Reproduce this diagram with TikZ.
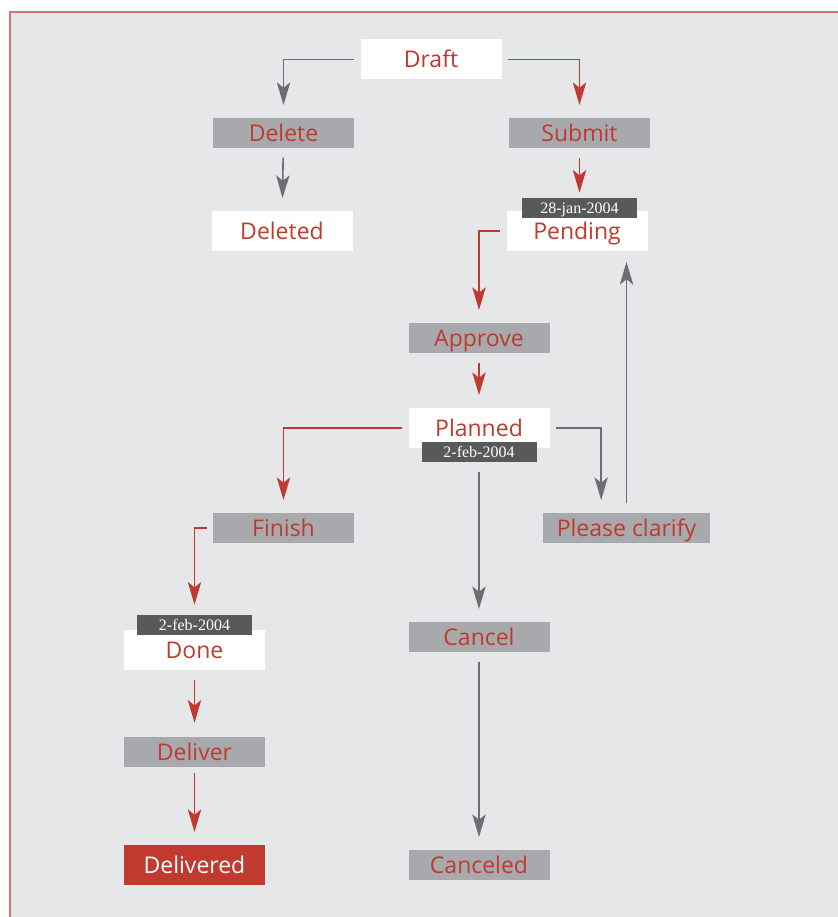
\documentclass[tikz,border=0pt]{standalone}
\usepackage{fontspec}
\setmainfont{Liberation Serif}
\setsansfont{Open Sans}
\usetikzlibrary{arrows.meta}

\definecolor{wfbg}{HTML}{E6E7E8}
\definecolor{wfframe}{HTML}{D07670}
\definecolor{wfred}{HTML}{C1392F}
\definecolor{wfgray}{HTML}{A7A9AC}
\definecolor{wfdark}{HTML}{58595B}
\definecolor{wfline}{HTML}{6D6E71}

\begin{document}
\begin{tikzpicture}[x=0.75pt, y=-0.75pt,
    every node/.style={font=\sffamily\fontsize{17.25}{20}\selectfont, text=wfred, inner sep=0pt, text height=12.4pt, text depth=0pt},
    state/.style={fill=white, minimum width=105.75pt, minimum height=30pt},
    action/.style={fill=wfgray, minimum width=105.75pt, minimum height=22.5pt},
    datetag/.style={fill=wfdark, text=white, font=\rmfamily\fontsize{12}{14}\selectfont, text height=8pt, minimum width=86.25pt, minimum height=15pt},
    flow/.style={line width=1.2pt, shorten <=7pt, shorten >=9.5pt, -{Stealth[length=17pt, width=10pt, inset=4pt]}},
    redarrow/.style={flow, draw=wfred},
    grayarrow/.style={flow, draw=wfline}]
    \useasboundingbox (0,0) rectangle (838,917);
    % Background and frame
    \fill[wfbg] (10,12) rectangle (838,917);
    \draw[wfframe, line width=1.5pt] (10,917) -- (10,12) -- (838,12);
    % States
    \foreach \name/\x/\y/\txt in {draft/431/59.5/Draft, deleted/282/231/Deleted,
        pending/577/231/Pending, planned/479/428/Planned, done/194.5/650/Done} {
        \node[state] (\name) at (\x,\y) {\txt};
    }
    \node[state, fill=wfred, text=white] (delivered) at (194.5,865) {Delivered};
    % Actions
    \foreach \name/\x/\y/\txt in {delete/283.5/133/Delete, submit/579.5/133/Submit,
        approve/479/338/Approve, finish/283.5/528/Finish, cancel/479/637/Cancel,
        deliver/194.5/752/Deliver, canceled/479/865/Canceled} {
        \node[action] (\name) at (\x,\y) {\txt};
    }
    \node[action, minimum width=125.25pt] (clarify) at (626.5,528) {Please clarify};
    % Dates
    \node[datetag] (pendingdate) at (579.5,208) {28-jan-2004};
    \node[datetag] (planneddate) at (479,452) {2-feb-2004};
    \node[datetag] (donedate) at (194.5,625) {2-feb-2004};
    % Edges
    \draw[grayarrow, shorten <=4.5pt] (draft) -| (delete);
    \draw[redarrow, shorten <=4.5pt] (draft) -| (submit);
    \draw[grayarrow] (delete) -- (deleted);
    \draw[redarrow, shorten >=3.75pt] (submit) -- (pendingdate);
    \draw[redarrow, shorten <=4.5pt] (pending) -| (approve);
    \draw[redarrow] (approve) -- (planned);
    \draw[redarrow, shorten <=4.5pt] (planned) -| (finish);
    \draw[grayarrow, shorten <=4.5pt] (planned) -| ([xshift=-19pt]clarify.north);
    \draw[grayarrow, shorten >=8pt] (clarify) -- (clarify.north |- pending.south);
    \draw[grayarrow] (planneddate) -- (cancel);
    \draw[grayarrow] (cancel) -- (canceled);
    \draw[redarrow, shorten <=4.5pt, shorten >=7.5pt] (finish) -| (donedate);
    \draw[redarrow, shorten >=10.5pt] (done) -- (deliver);
    \draw[redarrow, shorten <=4.5pt] (deliver) -- (delivered);
\end{tikzpicture}
\end{document}
